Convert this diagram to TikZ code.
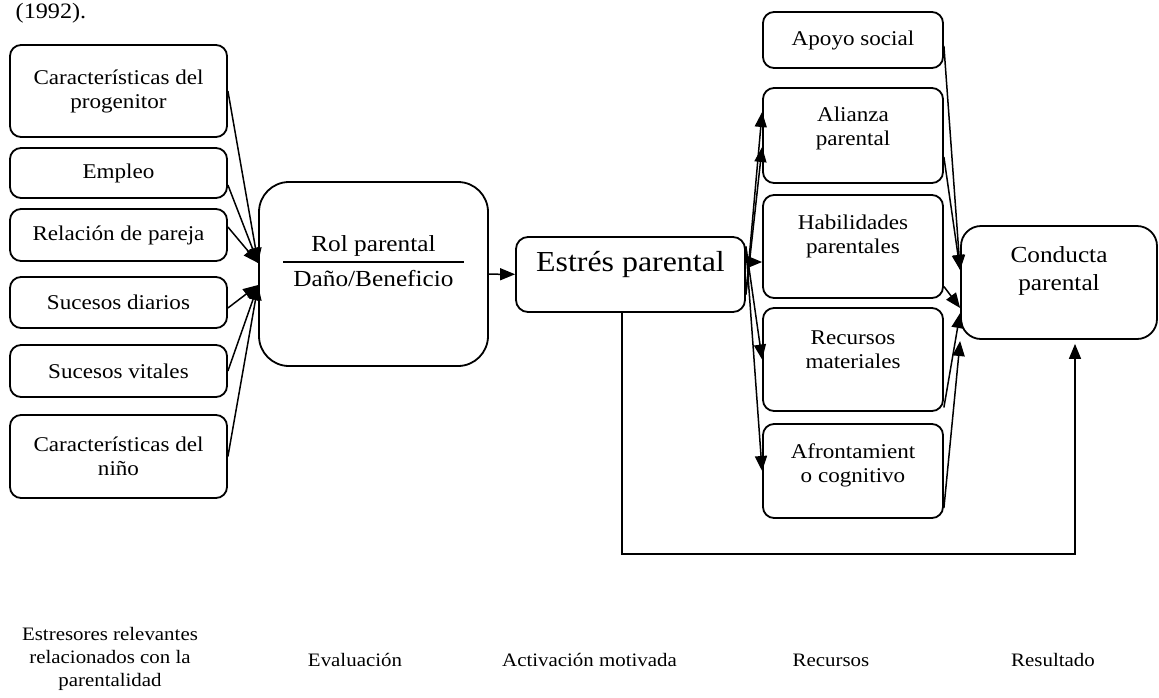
\documentclass[tikz,border=0pt]{standalone}
\usepackage{fontspec}
\setmainfont{Liberation Serif}[FakeStretch=1.1]
\usetikzlibrary{arrows.meta}

\begin{document}
\begin{tikzpicture}[x=1pt, y=-1pt, >={Triangle[length=15pt,width=12pt]},
                    main node/.style={rectangle,draw,line width=1.8pt,rounded corners=11pt,
                                      align=center,font=\fontsize{21}{24}\selectfont},
                    left node/.style={main node,minimum width=217pt},
                    right node/.style={main node,minimum width=180pt},
                    every label/.style={align=center,font=\fontsize{21}{24}\selectfont},
                    stage node/.style={align=center,font=\fontsize{19}{23}\selectfont}]

  \useasboundingbox (0,0) rectangle (1159,697);

  \node[font=\fontsize{22}{26}\selectfont] (0) at (51,13) {(1992).};

  \node[left node,minimum height=92pt] (1) at (118.5,91) {Características del\\progenitor};
  \node[left node,minimum height=50pt] (2) at (118.5,173) {Empleo};
  \node[left node,minimum height=52pt] (3) at (118.5,235) {Relación de pareja};
  \node[left node,minimum height=51pt] (4) at (118.5,302.5) {Sucesos diarios};
  \node[left node,minimum height=52pt] (5) at (118.5,371) {Sucesos vitales};
  \node[left node,minimum height=83pt] (6) at (118.5,456.5) {Características del\\niño};

  \node[main node,rounded corners=30pt,minimum width=229pt,minimum height=184pt,
        label={[yshift=12pt,font=\fontsize{23}{28}\selectfont]center:{\tabcolsep=10pt\arrayrulewidth=1.5pt
          \renewcommand{\arraystretch}{1.2}\begin{tabular}{c}Rol parental\\\hline Daño/Beneficio\end{tabular}}}]
        (7) at (373.5,274) {};
  \node[main node,rounded corners=12pt,minimum width=229pt,minimum height=75pt,
        label={[yshift=10pt,font=\fontsize{29}{34}\selectfont]center:Estrés parental}] (8) at (630.5,274.5) {};

  \node[right node,minimum height=56pt] (9) at (853,40) {Apoyo social};
  \node[right node,minimum height=95pt,label={[yshift=7pt]center:Alianza\\parental}] (10) at (853,135.5) {};
  \node[right node,minimum height=103pt,label={[yshift=10.5pt]center:Habilidades\\parentales}] (11) at (853,246.5) {};
  \node[right node,minimum height=103pt,label={[yshift=9.5pt]center:Recursos\\materiales}] (12) at (853,359.5) {};
  \node[right node,minimum height=94pt,label={[yshift=6pt]center:Afrontamient\\o cognitivo}] (13) at (853,471) {};

  \node[main node,rounded corners=20pt,minimum width=196pt,minimum height=113pt,
        label={[yshift=11.5pt,font=\fontsize{23}{28}\selectfont]center:Conducta\\parental}] (14) at (1059,282.5) {};

  \node[stage node] (15) at (110,659) {Estresores relevantes\\relacionados con la\\parentalidad};
  \node[stage node] (16) at (355,660) {Evaluación};
  \node[stage node] (17) at (589.5,660) {Activación motivada};
  \node[stage node] (18) at (831,660) {Recursos};
  \node[stage node] (19) at (1053,660) {Resultado};

  \coordinate (a) at ([yshift=11pt]7.west);
  \coordinate (b) at ([yshift=-11pt]7.west);
  \coordinate (c) at ([yshift=12.5pt]14.west);
  \coordinate (d) at ([yshift=-25.5pt]14.west);
  \coordinate (e) at ([yshift=-30.5pt]14.west);
  \coordinate (f) at ([yshift=-58.5pt]14.west);
  \coordinate (g) at (1075,554);

  \path[->,line width=1.5pt]
    (1.east) edge (a)
    ([yshift=-12pt]2.east) edge (a)
    ([yshift=8pt]3.east) edge (a)
    ([yshift=-5.5pt]4.east) edge (b)
    (5.east) edge (b)
    (6.east) edge (b)
    (7) edge (8)
    ([yshift=-20pt]8.east) edge ([yshift=23.5pt]10.west)
                           edge ([yshift=-11.5pt]10.west)
    ([yshift=12.5pt]8.east) edge ([yshift=-15.5pt]11.west)
    ([yshift=28pt]8.east) edge (12.west)
                          edge (13.west)
    ([yshift=-6pt]9.east) edge (c)
    ([yshift=-21.5pt]10.east) edge (c)
    ([yshift=-40pt]11.east) edge (d)
    ([yshift=-48pt]12.east) edge (e)
    ([yshift=-37pt]13.east) edge (f);

  \draw[->,line width=1.5pt,shorten >=4pt] ([xshift=-8.5pt]8.south) |- (g) -- ([xshift=16pt]14.south);
\end{tikzpicture}
\end{document}
